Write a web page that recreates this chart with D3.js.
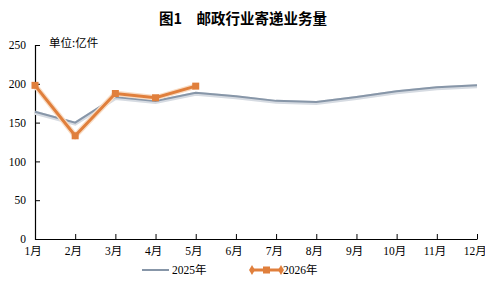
<!DOCTYPE html>
<html lang="zh">
<head>
  <meta charset="utf-8">
  <title>邮政行业寄递业务量</title>
  <style>
    html,body { margin:0; padding:0; background:#fff; overflow:hidden; }
    svg { display:block; }
    .tick text, .lbl { font-family:"Liberation Serif","Times New Roman","Noto Sans CJK SC",serif; font-size:11.5px; fill:#000; }
  </style>
  <script src="https://d3js.org/d3.v7.min.js"></script>
</head>
<body>
<svg width="485" height="281"></svg>
<script>
// data
const months = ["1月","2月","3月","4月","5月","6月","7月","8月","9月","10月","11月","12月"];
const y2025 = [164, 150, 183, 178, 188.5, 184, 178, 176.5, 183, 190.5, 195.5, 198];
const y2026 = [198, 133, 187.5, 182, 197];
const yTicks = [0, 50, 100, 150, 200, 250];

const svg = d3.select("svg");
const x = d3.scalePoint().domain(months).range([35, 477]);
const y = d3.scaleLinear().domain([0, 250]).range([239, 45]);

// title + unit
svg.append("text").attr("x", 243).attr("y", 24).attr("text-anchor", "middle")
  .style("font-family", '"Noto Sans CJK SC",sans-serif').style("font-size", "14.5px").style("font-weight", "bold")
  .text("图1\u3000邮政行业寄递业务量");
svg.append("text").attr("x", 49).attr("y", 47)
  .style("font-family", '"Noto Sans CJK SC",sans-serif').style("font-size", "11.5px")
  .text("单位:亿件");

// axes (ticks point inward)
const yAxis = svg.append("g").attr("transform", "translate(35,0)")
  .call(d3.axisRight(y).tickValues(yTicks).tickSize(5).tickPadding(-22));
yAxis.selectAll(".tick text").attr("text-anchor", "end").attr("x", -9);

const xAxis = svg.append("g").attr("transform", "translate(0,239)")
  .call(d3.axisTop(x).tickSize(5).tickSizeOuter(0));
xAxis.selectAll(".tick text").attr("y", 16).attr("dx", "-0.2em");

svg.selectAll(".domain").attr("stroke", "#000").attr("stroke-width", 1.2);
svg.selectAll(".tick line").attr("stroke", "#000");

// lines
const line = d3.line().x((d, i) => x(months[i])).y(d => y(d));

svg.append("path").datum(y2025).attr("d", line)
  .attr("fill", "none").attr("stroke", "#d6dbe2").attr("stroke-width", 4).attr("transform", "translate(0,1)");
svg.append("path").datum(y2025).attr("d", line)
  .attr("fill", "none").attr("stroke", "#8796a8").attr("stroke-width", 2);

svg.append("path").datum(y2026).attr("d", line)
  .attr("fill", "none").attr("stroke", "#f8dcc4").attr("stroke-width", 5.5);
svg.append("path").datum(y2026).attr("d", line)
  .attr("fill", "none").attr("stroke", "#e07f3c").attr("stroke-width", 3);
svg.append("g").selectAll("rect").data(y2026).join("rect")
  .attr("x", (d, i) => x(months[i]) - 3.5).attr("y", d => y(d) - 3.5)
  .attr("width", 7).attr("height", 7).attr("fill", "#e07f3c");

// legend
const lg = svg.append("g");
lg.append("line").attr("x1", 142).attr("x2", 169).attr("y1", 270).attr("y2", 270)
  .attr("stroke", "#8796a8").attr("stroke-width", 2);
lg.append("text").attr("class", "lbl").attr("x", 172).attr("y", 274).text("2025年");
lg.append("line").attr("x1", 252).attr("x2", 281).attr("y1", 270).attr("y2", 270)
  .attr("stroke", "#e07f3c").attr("stroke-width", 3);
lg.selectAll("path.dia").data([252, 281]).join("path")
  .attr("d", d3.symbol(d3.symbolDiamond, 30)).attr("transform", d => `translate(${d},270)`).attr("fill", "#e07f3c");
lg.append("rect").attr("x", 263).attr("y", 266.5).attr("width", 7).attr("height", 7).attr("fill", "#e07f3c");
lg.append("text").attr("class", "lbl").attr("x", 283).attr("y", 274).text("2026年");
</script>
</body>
</html>
